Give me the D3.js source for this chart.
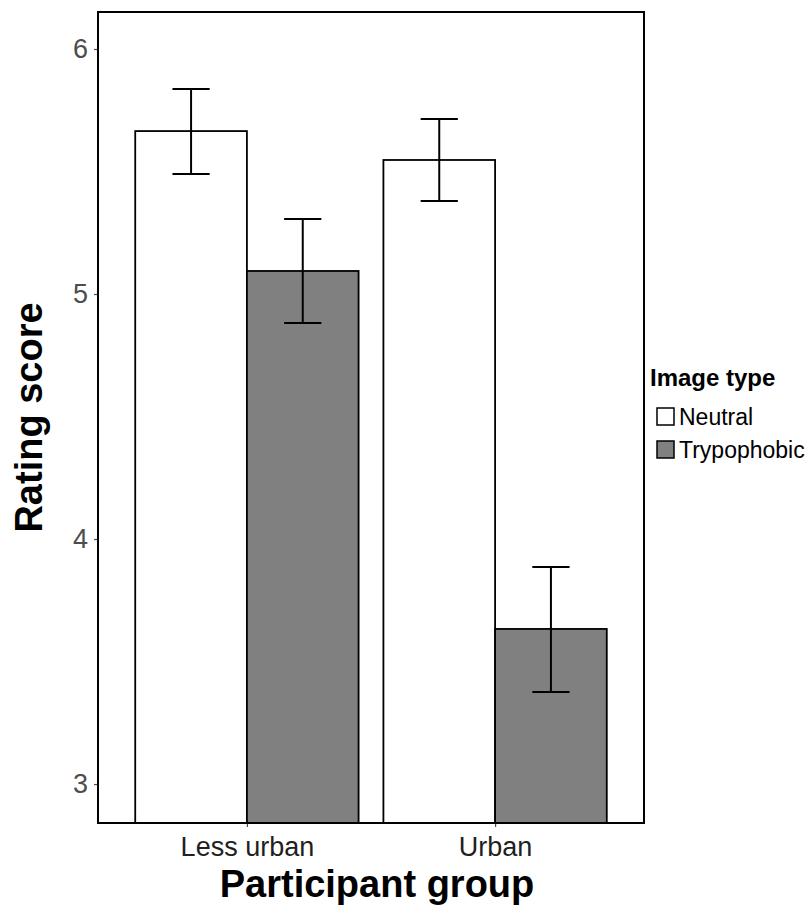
<!DOCTYPE html>
<html>
<head>
<meta charset="utf-8">
<script src="https://cdn.jsdelivr.net/npm/d3@7"></script>
<style>
  body { margin: 0; background: #fff; }
  svg { display: block; font-family: "Liberation Sans", Arial, sans-serif; }
</style>
</head>
<body>
<svg id="chart" width="812" height="915"></svg>
<script>
const groups = ["Less urban", "Urban"];
const imageTypes = ["Neutral", "Trypophobic"];
const neutralMean = [5.665, 5.547];
const neutralUpper = [5.837, 5.714];
const neutralLower = [5.49, 5.38];
const trypoMean = [5.094, 3.633];
const trypoUpper = [5.306, 3.886];
const trypoLower = [4.882, 3.376];
const yTicks = [3, 4, 5, 6];
const fills = ["#ffffff", "#808080"];

const rows = [];
groups.forEach((grp, i) => {
  rows.push({ grp, type: "Neutral", mean: neutralMean[i], hi: neutralUpper[i], lo: neutralLower[i] });
  rows.push({ grp, type: "Trypophobic", mean: trypoMean[i], hi: trypoUpper[i], lo: trypoLower[i] });
});

const panel = { left: 98, right: 644, top: 12, bottom: 823 };
const svg = d3.select("#chart");

const x = d3.scalePoint().domain(groups).range([panel.left, panel.right]).padding(0.6);
const dodge = x.step() * 0.9;
const xType = d3.scaleBand().domain(imageTypes).range([-dodge / 2, dodge / 2]);
const y = d3.scaleLinear().domain([2.841, 6.151]).range([panel.bottom, panel.top]);
const color = d3.scaleOrdinal().domain(imageTypes).range(fills);

svg.append("clipPath").attr("id", "clip")
  .append("rect")
  .attr("x", panel.left).attr("y", panel.top)
  .attr("width", panel.right - panel.left).attr("height", panel.bottom - panel.top);

const plot = svg.append("g").attr("clip-path", "url(#clip)");

plot.selectAll("rect.bar")
  .data(rows)
  .join("rect")
  .attr("class", "bar")
  .attr("x", (d) => x(d.grp) + xType(d.type))
  .attr("width", xType.bandwidth())
  .attr("y", (d) => y(d.mean))
  .attr("height", (d) => y.range()[0] + 2 - y(d.mean))
  .attr("fill", (d) => color(d.type))
  .attr("stroke", "#000")
  .attr("stroke-width", 1.8);

const cap = xType.bandwidth() / 6;
const err = plot.append("g").selectAll("g").data(rows).join("g")
  .attr("transform", (d) => `translate(${x(d.grp) + xType(d.type) + xType.bandwidth() / 2},0)`)
  .attr("stroke", "#000").attr("stroke-width", 2);
err.append("line").attr("x1", 0).attr("x2", 0).attr("y1", (d) => y(d.hi)).attr("y2", (d) => y(d.lo));
err.append("line").attr("x1", -cap).attr("x2", cap).attr("y1", (d) => y(d.hi)).attr("y2", (d) => y(d.hi));
err.append("line").attr("x1", -cap).attr("x2", cap).attr("y1", (d) => y(d.lo)).attr("y2", (d) => y(d.lo));

// panel border
svg.append("rect")
  .attr("x", panel.left).attr("y", panel.top)
  .attr("width", panel.right - panel.left).attr("height", panel.bottom - panel.top)
  .attr("fill", "none").attr("stroke", "#000").attr("stroke-width", 2);

// y axis
const yAxis = svg.append("g")
  .attr("transform", `translate(${panel.left - 1},0)`)
  .call(d3.axisLeft(y).tickValues(yTicks).tickSize(3).tickPadding(6).tickFormat(d3.format("d")));
yAxis.select(".domain").remove();
yAxis.selectAll(".tick line").attr("stroke", "#4d4d4d").attr("stroke-width", 1.2);
yAxis.selectAll(".tick text")
  .attr("fill", "#4d4d4d").attr("font-size", 27).attr("font-family", "Liberation Sans, Arial, sans-serif");

// x axis
const xAxis = svg.append("g")
  .attr("transform", `translate(0,${panel.bottom + 1})`)
  .call(d3.axisBottom(x).tickSize(3).tickPadding(10));
xAxis.select(".domain").remove();
xAxis.selectAll(".tick line").attr("stroke", "#4d4d4d").attr("stroke-width", 1.2);
xAxis.selectAll(".tick text")
  .attr("fill", "#231f20").attr("font-size", 27).attr("font-family", "Liberation Sans, Arial, sans-serif");

// axis titles
svg.append("text")
  .attr("x", (panel.left + panel.right) / 2 + 6).attr("y", 897)
  .attr("text-anchor", "middle").attr("font-size", 38).attr("font-weight", "bold")
  .text("Participant group");

svg.append("text")
  .attr("transform", `translate(42,${(panel.top + panel.bottom) / 2}) rotate(-90)`)
  .attr("text-anchor", "middle").attr("font-size", 38).attr("font-weight", "bold")
  .text("Rating score");

// legend
const legend = svg.append("g").attr("transform", "translate(650,0)");
legend.append("text").attr("x", 0).attr("y", 386)
  .attr("font-size", 24).attr("font-weight", "bold").text("Image type");
const item = legend.selectAll("g.item").data(imageTypes).join("g")
  .attr("class", "item")
  .attr("transform", (d, i) => `translate(0,${408 + i * 33})`);
item.append("rect")
  .attr("x", 7).attr("y", 0).attr("width", 17).attr("height", 17)
  .attr("fill", (d) => color(d)).attr("stroke", "#000").attr("stroke-width", 1.5);
item.append("text")
  .attr("x", 29).attr("y", 17)
  .attr("font-size", 23).text((d) => d);
</script>
</body>
</html>
